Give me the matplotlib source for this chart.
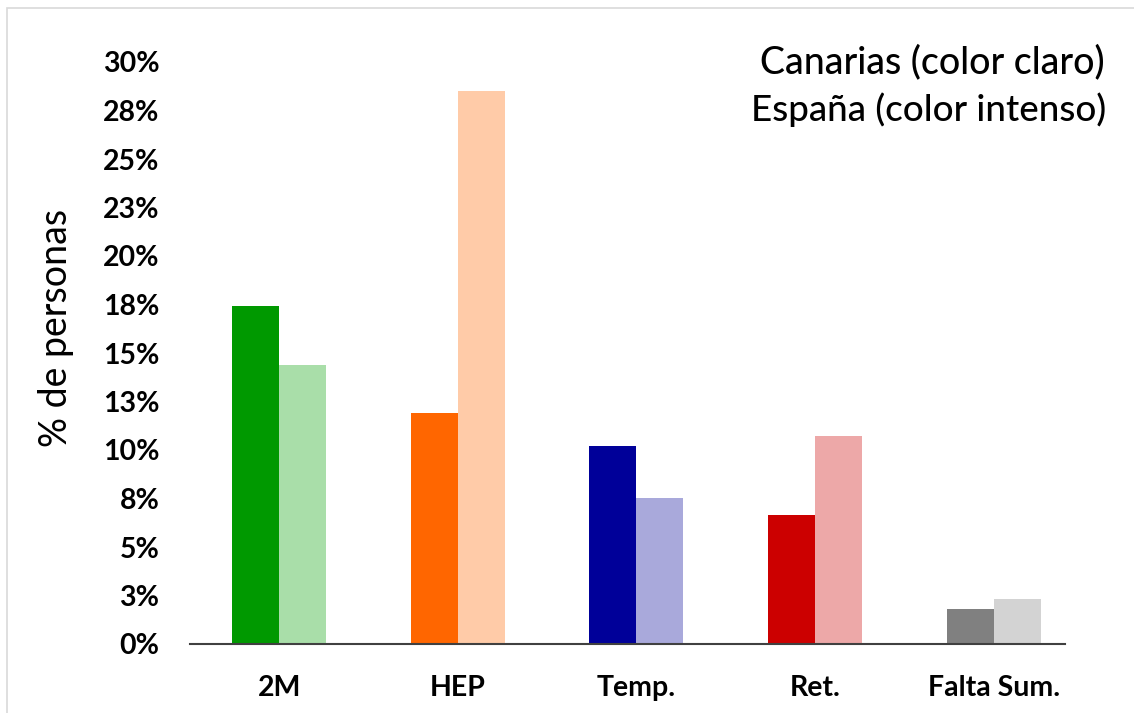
import matplotlib
matplotlib.use("Agg")
import matplotlib.pyplot as plt
import numpy as np
from matplotlib.patches import Rectangle

plt.rcParams['font.family'] = ['Lato', 'DejaVu Sans']

# categories and shares (%) of people
categorias = ['2M', 'HEP', 'Temp.', 'Ret.', 'Falta Sum.']
espana = [17.4, 11.9, 10.2, 6.65, 1.8]
canarias = [14.4, 28.5, 7.55, 10.7, 2.3]

col_intenso = ['#009900', '#FF6600', '#000099', '#CC0000', '#808080']
col_claro = ['#A9DEA9', '#FFCBA8', '#A9A9DB', '#EDA8A8', '#D3D3D3']

yticks = np.arange(0, 30.01, 2.5)
ytick_labels = ['0%', '3%', '5%', '8%', '10%', '13%', '15%', '18%',
                '20%', '23%', '25%', '28%', '30%']

W, H = 1134, 713
fig = plt.figure(figsize=(W / 100, H / 100), dpi=100)
ax = fig.add_axes([190 / W, 69 / H, 875 / W, 582 / H])

x = np.arange(len(categorias))
bw = 0.263
ax.bar(x - bw / 2, espana, width=bw, color=col_intenso, linewidth=0)
ax.bar(x + bw / 2, canarias, width=bw, color=col_claro, linewidth=0)

ax.set_xlim(-0.5, 4.4)
ax.set_ylim(0, 30)
ax.set_yticks(yticks)
ax.set_yticklabels(ytick_labels, fontsize=20.5, fontweight='bold')
ax.set_xticks(x)
ax.set_xticklabels(categorias, fontsize=20.5, fontweight='bold')
ax.tick_params(axis='y', length=0, pad=22)
ax.tick_params(axis='x', length=0, pad=22)

for s in ['top', 'right', 'left']:
    ax.spines[s].set_visible(False)
ax.spines['bottom'].set_color('#404040')
ax.spines['bottom'].set_linewidth(1.5)

fig.text(56 / W, 1 - 328 / H, '% de personas', rotation=90, fontsize=27,
         ha='center', va='center')
fig.text(1105 / W, 1 - 62 / H, 'Canarias (color claro)', fontsize=27,
         ha='right', va='center', fontweight='medium')
fig.text(1106 / W, 1 - 110 / H, 'España (color intenso)', fontsize=26.5,
         ha='right', va='center', fontweight='medium')

# thin frame around the chart area
fig.patches.append(Rectangle((7 / W, -0.1), 1.2, 1 - 8 / H + 0.1,
                             transform=fig.transFigure, fill=False,
                             edgecolor='#D9D9D9', linewidth=1.2))

fig.savefig('out.png', dpi=100, facecolor='white')
